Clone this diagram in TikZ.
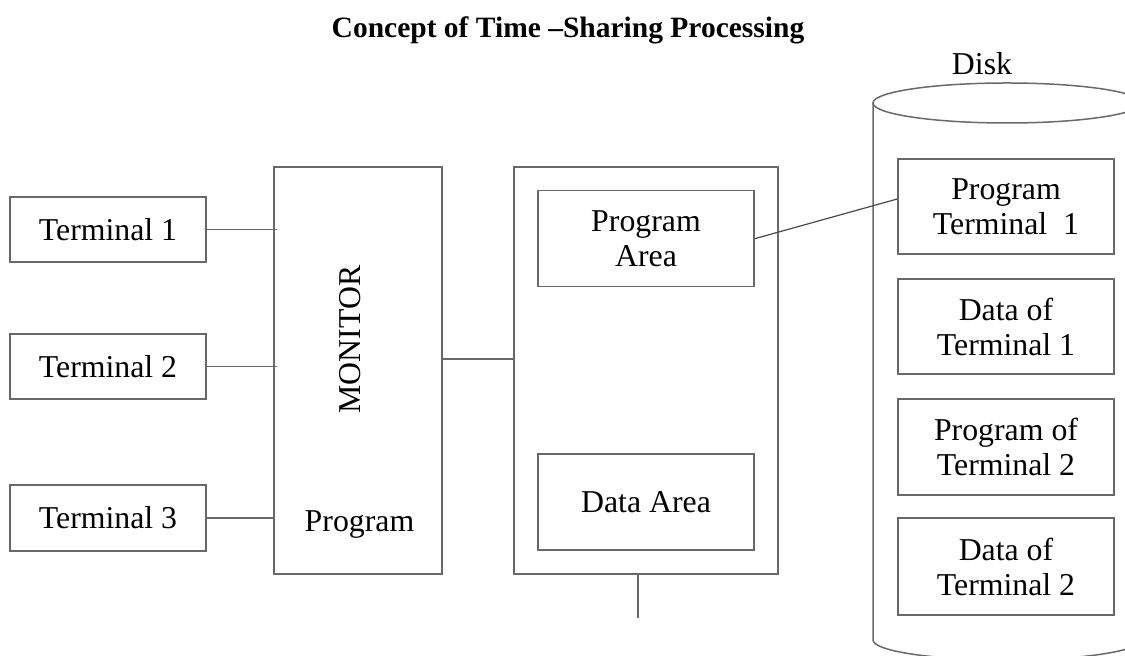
\documentclass[tikz,border=0pt]{standalone}
\usepackage{fontspec}
\setmainfont{Liberation Serif}
\usetikzlibrary{calc}
\definecolor{edge}{RGB}{105,105,105}
\tikzset{
  blk/.style={draw=edge, line width=0.75pt, inner sep=0pt, align=center,
              font=\fontsize{15.9pt}{17.5pt}\selectfont},
  wire/.style={draw=edge, line width=0.75pt},
  lbl/.style={inner sep=0pt, font=\fontsize{15.9pt}{17.5pt}\selectfont},
}
\begin{document}
\begin{tikzpicture}[x=0.5pt, y=-0.5pt]
  \useasboundingbox (0,0) rectangle (1125,656);
  \clip (0,0) rectangle (1125,656);

  % title
  \node[lbl, anchor=base, font=\fontsize{14.75pt}{17pt}\selectfont\bfseries] (title) at (568,38)
    {Concept of Time –Sharing Processing};

  % terminals
  \node[blk, minimum width=98pt, minimum height=32.5pt] (t1) at (108,229.5) {Terminal 1};
  \node[blk, minimum width=98pt, minimum height=32.5pt] (t2) at (108,366.5) {Terminal 2};
  \node[blk, minimum width=98pt, minimum height=33pt]   (t3) at (108,518)   {Terminal 3};

  % monitor
  \node[blk, minimum width=84pt, minimum height=203.5pt] (mon) at (358,370.5) {};
  \node[lbl, rotate=90] (montxt) at (350,339.5) {MONITOR};
  \node[lbl, anchor=base] (monprog) at (359.5,532) {Program};

  % main memory
  \node[blk, minimum width=132pt, minimum height=203.5pt] (mem) at (646,370.5) {};
  \node[blk, minimum width=108pt, minimum height=48pt] (parea) at (646,238.7) {Program\\Area};
  \node[blk, minimum width=108pt, minimum height=48pt] (darea) at (646,502) {Data Area};

  % disk cylinder
  \draw[wire] (1007,103) ellipse [x radius=67pt, y radius=10pt];
  \draw[wire] (873,103) -- (873,640) arc[start angle=180, end angle=360, x radius=67pt, y radius=10pt] -- (1141,103);
  \node[lbl, anchor=base] (disk) at (982,75) {Disk};

  % disk contents
  \node[blk, minimum width=108pt, minimum height=47.5pt] (d1) at (1006,206.5) {Program\\Terminal\ \ 1};
  \node[blk, minimum width=108pt, minimum height=47.5pt] (d2) at (1006,326.5) {Data of\\Terminal 1};
  \node[blk, minimum width=108pt, minimum height=48pt]   (d3) at (1006,447)   {Program of\\Terminal 2};
  \node[blk, minimum width=108pt, minimum height=48.5pt] (d4) at (1006,566.5) {Data of\\Terminal 2};

  % connections
  \draw[wire] (t1.east) -- ($(mon.west |- t1.east)+(4,0)$);
  \draw[wire] (t2.east) -- ($(mon.west |- t2.east)+(4,0)$);
  \draw[wire] (t3.east) -- ($(mon.west |- t3.east)+(2,0)$);
  \draw[wire] ([yshift=5.75pt]mon.east) -- ([yshift=5.75pt]mem.west);
  \draw[edge!70!black, line width=0.6pt] (parea.east) -- ([yshift=3.75pt]d1.west);
  \coordinate (tail) at (638,618);
  \draw[wire] (tail |- mem.south) -- (tail);
\end{tikzpicture}
\end{document}
